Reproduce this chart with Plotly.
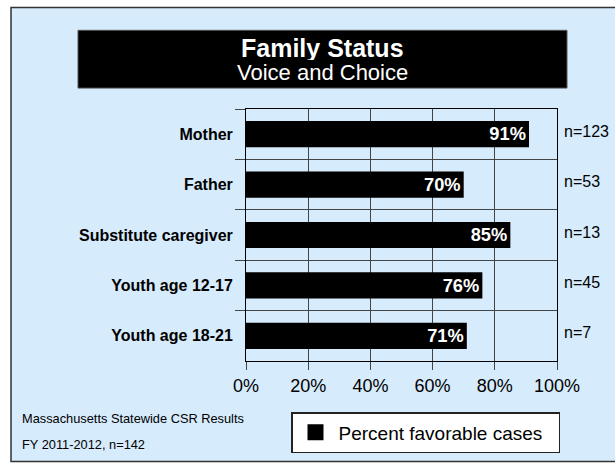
import plotly.graph_objects as go

categories = ["Mother", "Father", "Substitute caregiver", "Youth age 12-17", "Youth age 18-21"]
values = [91, 70, 85, 76, 71]
n_labels = ["n=123", "n=53", "n=13", "n=45", "n=7"]
x_ticks = [0, 20, 40, 60, 80, 100]
title_main = "Family Status"
title_sub = "Voice and Choice"
legend_name = "Percent favorable cases"
footnotes = ["Massachusetts Statewide CSR Results", "FY 2011-2012, n=142"]

W, H = 615, 464
L, R, T, B = 246, 58, 109, 102
PW, PH = W - L - R, H - T - B

def px(x):
    return (x - L) / PW

def py(y):
    return (H - B - y) / PH

FONT = "Liberation Sans, Arial, Helvetica, sans-serif"

fig = go.Figure()
fig.add_trace(go.Bar(
    x=values, y=categories, orientation="h",
    marker=dict(color="black", line=dict(width=0)),
    width=0.52,
    text=[f"{v}%" for v in values],
    textposition="inside", insidetextanchor="end",
    textfont=dict(color="white", size=19, family=FONT, weight="bold"),
    showlegend=False, cliponaxis=False,
))
fig.add_trace(go.Scatter(
    x=[None], y=[None], mode="markers", name=legend_name,
    marker=dict(symbol="square", size=17, color="black"),
))

shapes = [
    dict(type="rect", xref="paper", yref="paper", layer="below",
         x0=px(11), x1=px(640), y0=py(463), y1=py(7),
         fillcolor="#D6EBFB", line=dict(color="#333333", width=1.5)),
    dict(type="rect", xref="paper", yref="paper", layer="below",
         x0=px(78), x1=px(567), y0=py(88), y1=py(30),
         fillcolor="black", line=dict(color="#555555", width=1)),
]

annotations = [
    dict(text=f"<b>{title_main}</b>", xref="paper", yref="paper", x=px(322), y=py(47.5),
         height=24, showarrow=False, font=dict(color="white", size=25, family=FONT),
         xanchor="center", yanchor="middle"),
    dict(text=title_sub, xref="paper", yref="paper", x=px(322), y=py(72),
         height=20, showarrow=False, font=dict(color="white", size=22, family=FONT),
         xanchor="center", yanchor="middle"),
    dict(text=footnotes[0], xref="paper", yref="paper", x=px(20), y=py(420),
         showarrow=False, font=dict(color="black", size=12.8, family=FONT), xanchor="left", yanchor="middle"),
    dict(text=footnotes[1], xref="paper", yref="paper", x=px(20), y=py(446),
         showarrow=False, font=dict(color="black", size=12.8, family=FONT), xanchor="left", yanchor="middle"),
]
for cat, n in zip(categories, n_labels):
    annotations.append(dict(text=n, xref="paper", yref="y", x=px(562), y=cat, yshift=3,
                            showarrow=False, xanchor="left", yanchor="middle",
                            font=dict(color="black", size=16, family=FONT)))

fig.update_layout(
    width=W, height=H,
    margin=dict(l=L, r=R, t=T, b=B, pad=0),
    paper_bgcolor="white", plot_bgcolor="white",
    font=dict(family=FONT, color="black"),
    shapes=shapes, annotations=annotations,
    bargap=0.48,
    showlegend=True,
    legend=dict(x=px(291), y=py(412), xanchor="left", yanchor="top",
                bgcolor="white", bordercolor="#222222", borderwidth=1.5,
                font=dict(size=19, family=FONT, color="black"),
                orientation="h", entrywidth=215, entrywidthmode="pixels",
                itemwidth=36, itemclick=False),
    xaxis=dict(range=[0, 100], tickvals=x_ticks, ticktext=[f"{t}%" for t in x_ticks],
               showgrid=True, gridcolor="#444444", gridwidth=1,
               ticks="outside", ticklen=8, tickcolor="#444444",
               showline=True, linecolor="black", linewidth=1, mirror=True,
               tickfont=dict(size=18, family=FONT, color="black"), zeroline=False,
               fixedrange=True),
    yaxis=dict(type="category", categoryorder="array", categoryarray=categories,
               autorange="reversed", tickson="boundaries",
               showgrid=True, gridcolor="#444444", gridwidth=1,
               ticks="outside", ticklen=10, tickcolor="#444444",
               showline=True, linecolor="black", linewidth=1, mirror=True,
               ticklabelstandoff=9,
               tickfont=dict(size=16, family=FONT, color="black", weight="bold"),
               fixedrange=True),
)

fig.write_html("out.html", config={"displayModeBar": False},
               post_script="document.body.style.margin='0';document.body.style.padding='0';document.body.style.overflow='hidden';")
